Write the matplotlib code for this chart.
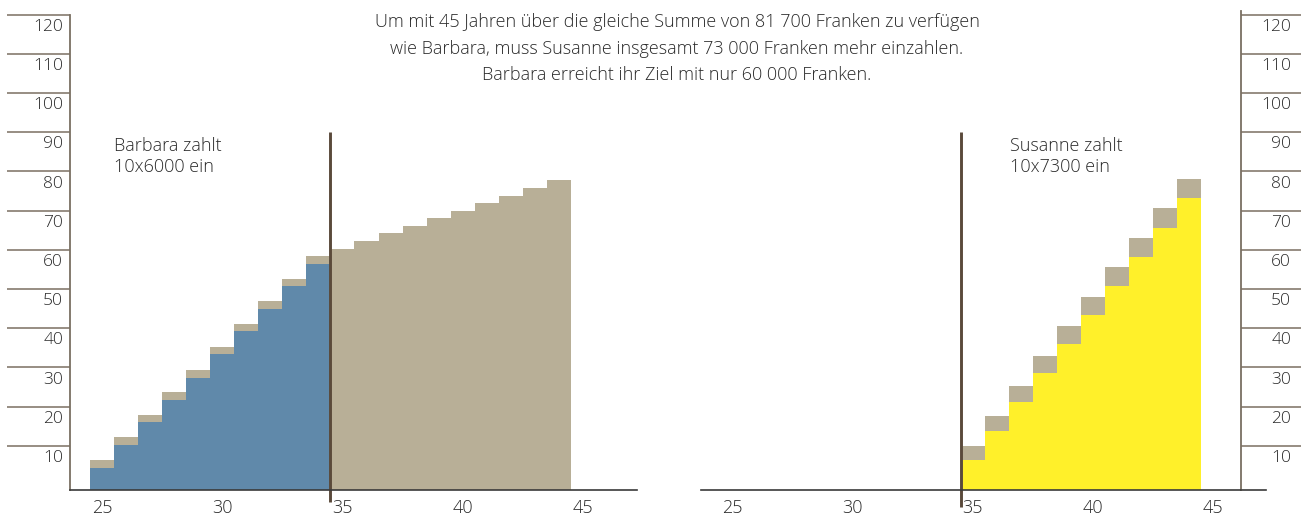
import matplotlib
matplotlib.use("Agg")
import matplotlib.pyplot as plt

# ---------------- data ----------------
ages_pay_b = [25, 26, 27, 28, 29, 30, 31, 32, 33, 34]
ages_grow_b = [35, 36, 37, 38, 39, 40, 41, 42, 43, 44]
barbara_paid = [4.3, 10.1, 16.1, 21.7, 27.3, 33.4, 39.3, 44.9, 50.8, 56.4]
barbara_total_pay = [6.4, 12.2, 17.9, 23.7, 29.3, 35.2, 41.1, 46.9, 52.6, 58.4]
barbara_total_grow = [60.2, 62.2, 64.3, 66.1, 68.1, 69.9, 71.9, 73.7, 75.8, 77.8]

ages_pay_s = [35, 36, 37, 38, 39, 40, 41, 42, 43, 44]
susanne_paid = [6.4, 13.8, 21.2, 28.6, 36.0, 43.4, 50.8, 58.2, 65.6, 73.2]
susanne_total = [9.9, 17.6, 25.3, 32.9, 40.6, 48.0, 55.6, 63.0, 70.7, 78.1]

y_ticks = [10, 20, 30, 40, 50, 60, 70, 80, 90, 100, 110, 120]
x_ticks = [25, 30, 35, 40, 45]
start_age = 34.5

title = ("Um mit 45 Jahren über die gleiche Summe von 81 700 Franken zu verfügen\n"
         "wie Barbara, muss Susanne insgesamt 73 000 Franken mehr einzahlen.\n"
         "Barbara erreicht ihr Ziel mit nur 60 000 Franken.")
label_b = "Barbara zahlt\n10x6000 ein"
label_s = "Susanne zahlt\n10x7300 ein"

# ---------------- style ----------------
BLUE = "#6089AA"
TAN = "#B8AF97"
YELLOW = "#FFF02A"
DARK = "#5A4A3B"
SPINE = "#7A6F62"
BASE = "#3A3A3A"
TXT = "#2A2A2A"

fam = ["Open Sans", "DejaVu Sans"]
FW = 'light'
W, H = 1301, 520
fig = plt.figure(figsize=(W / 100, H / 100), dpi=100)

base_px = 489.5
s = 3.92       # px per unit
Y0 = -1.15     # value at the baseline
ytop = 121.5
ah = (ytop - Y0) * s

def make_ax(x0, x1, xlim):
    ax = fig.add_axes([x0 / W, (H - base_px) / H, (x1 - x0) / W, ah / H])
    ax.set_xlim(*xlim)
    ax.set_ylim(Y0, ytop)
    ax.patch.set_alpha(0)
    for sp in ax.spines.values():
        sp.set_visible(False)
    ax.spines['bottom'].set_visible(True)
    ax.spines['bottom'].set_color(BASE)
    ax.spines['bottom'].set_linewidth(1.2)
    ax.set_xticks(x_ticks)
    ax.set_xticklabels([str(t) for t in x_ticks], fontsize=13, color=TXT,
                       family=fam, fontweight=FW)
    ax.tick_params(axis='x', length=0, pad=7)
    return ax

def bars(ax, x, top, color):
    ax.bar(x, [t - Y0 for t in top], bottom=Y0, width=1.0, color=color, linewidth=0)

# left panel
axL = make_ax(70, 637, (23.67, 47.25))
axL.spines['left'].set_visible(True)
axL.spines['left'].set_bounds(Y0, 120)
axL.spines['left'].set_color(SPINE)
axL.spines['left'].set_linewidth(1.3)
axL.set_yticks(y_ticks)
axL.set_yticklabels([])
axL.tick_params(axis='y', direction='out', length=45.5, width=1.1, color=SPINE)
for t in y_ticks:
    axL.annotate(str(t), xy=(0, t), xycoords=('axes fraction', 'data'),
                 xytext=(-5, -3), textcoords='offset points', ha='right', va='top',
                 fontsize=12.5, color=TXT, family=fam, fontweight=FW)

bars(axL, ages_pay_b, barbara_total_pay, TAN)
bars(axL, ages_pay_b, barbara_paid, BLUE)
bars(axL, ages_grow_b, barbara_total_grow, TAN)
axL.plot([start_age, start_age], [-4.3, 90.1], color=DARK, lw=2.1, clip_on=False,
         solid_capstyle='butt')
axL.text(25.5, 88.8, label_b, ha='left', va='top', fontsize=13, color=TXT,
         family=fam, fontweight=FW, linespacing=1.25)

# right panel
axR = make_ax(701, 1241, (23.71, 46.16))
axR.spines['right'].set_visible(True)
axR.spines['right'].set_bounds(Y0, 120.8)
axR.spines['right'].set_color(SPINE)
axR.spines['right'].set_linewidth(1.3)
axR.yaxis.tick_right()
axR.set_yticks(y_ticks)
axR.set_yticklabels([])
axR.tick_params(axis='y', direction='out', length=45, width=1.1, color=SPINE)
for t in y_ticks:
    axR.annotate(str(t), xy=(1, t), xycoords=('axes fraction', 'data'),
                 xytext=(36, -3), textcoords='offset points', ha='right', va='top',
                 fontsize=12.5, color=TXT, family=fam, fontweight=FW)
axR.plot([46.16, 47.2], [Y0, Y0], color=BASE, lw=1.2, clip_on=False)

bars(axR, ages_pay_s, susanne_total, TAN)
bars(axR, ages_pay_s, susanne_paid, YELLOW)
axR.plot([start_age, start_age], [-5.6, 90.1], color=DARK, lw=2.1, clip_on=False,
         solid_capstyle='butt')
axR.text(36.55, 88.8, label_s, ha='left', va='top', fontsize=13, color=TXT,
         family=fam, fontweight=FW, linespacing=1.25)

fig.text(677 / W, 1 - 13 / H, title, ha='center', va='top', fontsize=13,
         color=TXT, family=fam, fontweight=FW, linespacing=1.62,
         multialignment='center')

fig.savefig("out.png", dpi=100)
